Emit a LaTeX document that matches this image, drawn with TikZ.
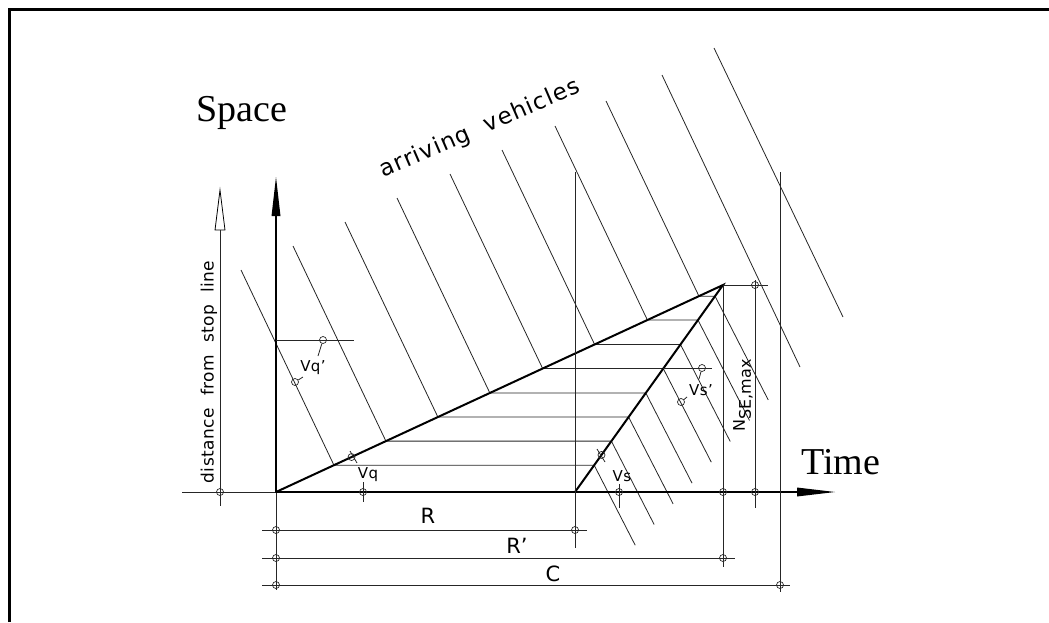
\documentclass[tikz,border=0pt]{standalone}
\usepackage{fontspec}
\setmainfont{Liberation Serif}
\newfontfamily\cad{DejaVu Sans}
\newfontfamily\cadw[LetterSpace=3]{DejaVu Sans}
\newfontfamily\cadww[LetterSpace=5]{DejaVu Sans}
\usetikzlibrary{calc}
\begin{document}
\begin{tikzpicture}[x=1pt,y=-1pt,
  trajline/.style={line width=0.8pt, black!85},
  dimline/.style={line width=0.8pt, black!85},
  heavyline/.style={line width=2pt, line cap=round},
  axisline/.style={line width=2.8pt},
  ringmark/.style={circle, draw=black!85, line width=0.7pt, minimum size=7pt, inner sep=0pt},
  smalltext/.style={font=\cadw\fontsize{15}{15}\selectfont, inner sep=0pt},
  dimtext/.style={font=\cad\fontsize{21}{21}\selectfont, inner sep=0pt},
  bigtext/.style={font=\fontsize{38}{38}\selectfont, inner sep=0pt}
]
\useasboundingbox (0,0) rectangle (1049,622);
% frame
\draw[line width=3pt] (9,622) -- (9,9) -- (1049,9);

% key points
\coordinate (O) at (276,492);
\coordinate (P) at (723,285);
\coordinate (S) at (575,492);
\coordinate (X712) at (712,0);

% vehicle trajectories that join the queue
\foreach \k/\ax/\ay in {1/241/270, 2/293/246, 3/345/222, 4/397/198, 5/450/174, 6/502/150, 7/555/126, 8/606/101} {
  \pgfmathsetmacro{\mm}{447/207}
  \pgfmathsetmacro{\nn}{148/207}
  \pgfmathsetmacro{\yq}{(276+492*\mm-\ax+\ay/2.1)/(1/2.1+\mm)}
  \pgfmathsetmacro{\xq}{\ax+(\yq-\ay)/2.1}
  \pgfmathsetmacro{\xd}{575+\nn*(492-\yq)}
  \pgfmathsetmacro{\dy}{80+3.4*(\k-1)}
  \pgfmathsetmacro{\xe}{\xd+\dy/1.95}
  \pgfmathsetmacro{\ye}{\yq+\dy}
  \coordinate (A\k) at (\ax,\ay);
  \coordinate (Q\k) at (\xq,\yq);
  \coordinate (D\k) at (\xd,\yq);
  \coordinate (E\k) at (\xe,\ye);
  \draw[trajline] (A\k) -- (Q\k) -- (D\k) -- (E\k);
}
% trajectories passing freely
\coordinate (A9) at (662,75);  \coordinate (E9) at (800,367);
\coordinate (A10) at (714,48); \coordinate (E10) at (843,317);
\draw[trajline] (A9) -- (E9);
\draw[trajline] (A10) -- (E10);

% axes
\draw[dimline] (182,492) -- (O);
\draw[dimline] (O) -- (276,590);
\draw[axisline] (O) -- (276,212);
\fill (276,177) -- (280.5,216) -- (271.5,216) -- cycle;
\draw[axisline] (O) -- (800,492);
\fill (835,492) -- (797,487.5) -- (797,496.5) -- cycle;

% queue triangle
\draw[heavyline] (O) -- (P) -- (S);

% distance dimension (left)
\draw[dimline] (220,230) -- (220,506);
\draw[line width=0.8pt, fill=white] (220,190) -- (225,230) -- (215,230) -- cycle;
\node[ringmark] (c0) at (220,492) {};
\node[font=\cadw\fontsize{17}{17}\selectfont, rotate=90, inner sep=0pt] (dist) at (209,372) {distance\ \ from\ \ stop\ \ line};

% vertical reference lines
\draw[dimline] (575,172) -- (575,548);
\draw[dimline] (P) -- (723,567);
\draw[dimline] (780,172) -- (780,592);
\draw[dimline] (P) -- (768,285);
\draw[dimline] (755,280) -- (755,508);
\node[ringmark] (n1) at (755,285) {};
\node[ringmark] (n2) at (755,492) {};
\node[ringmark] (n3) at (723,492) {};
\node[font=\cad\fontsize{16}{16}\selectfont, rotate=90, inner sep=0pt] (nse) at (743,395) {N$_{\mbox{\cad\fontsize{16}{16}\selectfont SE,max}}$};

% bottom dimensions R, R', C
\draw[dimline] (262,530) -- (587,530);
\draw[dimline] (262,558) -- (735,558);
\draw[dimline] (262,585) -- (790,585);
\node[ringmark] (r1) at (276,530) {};
\node[ringmark] (r2) at (575,530) {};
\node[ringmark] (rp1) at (276,558) {};
\node[ringmark] (rp2) at (723,558) {};
\node[ringmark] (cc1) at (276,585) {};
\node[ringmark] (cc2) at (780,585) {};
\node[dimtext] (lR) at (428,516) {R};
\node[dimtext] (lRp) at (517,546) {R’};
\node[dimtext] (lC) at (553,574) {C};

% Vq
\coordinate (vqc) at ($(O)!0.169!(P)$);
\node[ringmark] (vq1) at (vqc) {};
\draw[dimline] (350,451) -- (357,463);
\node[ringmark] (vq2) at (363,492) {};
\draw[dimline] (363,482) -- (363,502);
\node[smalltext] (lvq) at (368,475) {Vq};

% Vq'
\draw[dimline] (276,340) -- (354,340);
\node[ringmark] (vqp1) at (323,340) {};
\node[ringmark] (vqp2) at (295,382) {};
\draw[dimline] (vqp1) -- (318,356);
\draw[dimline] (vqp2) -- (303,377);
\node[smalltext] (lvqp) at (313,368) {Vq’};

% Vs
\coordinate (vsc) at ($(S)!0.179!(P)$);
\node[ringmark] (vs1) at (vsc) {};
\draw[dimline] (597,449) -- (605,462);
\node[ringmark] (vs2) at (619,492) {};
\draw[dimline] (619,484) -- (619,508);
\node[smalltext] (lvs) at (622,476) {Vs};

% Vs'
\draw[dimline] (D5) -- (D5 -| X712);
\node[ringmark] (vsp1) at (702,368) {};
\node[ringmark] (vsp2) at (681,402) {};
\draw[dimline] (vsp1) -- (699,379);
\draw[dimline] (vsp2) -- (687,397);
\node[smalltext] (lvsp) at (701,390) {Vs’};

% titles
\node[bigtext, anchor=base west] (space) at (196,121) {Space};
\node[bigtext, anchor=base west] (time) at (801,474) {Time};
\node[font=\cadww\fontsize{23}{23}\selectfont, rotate=23.4, inner sep=0pt] (arr) at (480,129) {arriving\ \ vehicles};
\end{tikzpicture}
\end{document}
